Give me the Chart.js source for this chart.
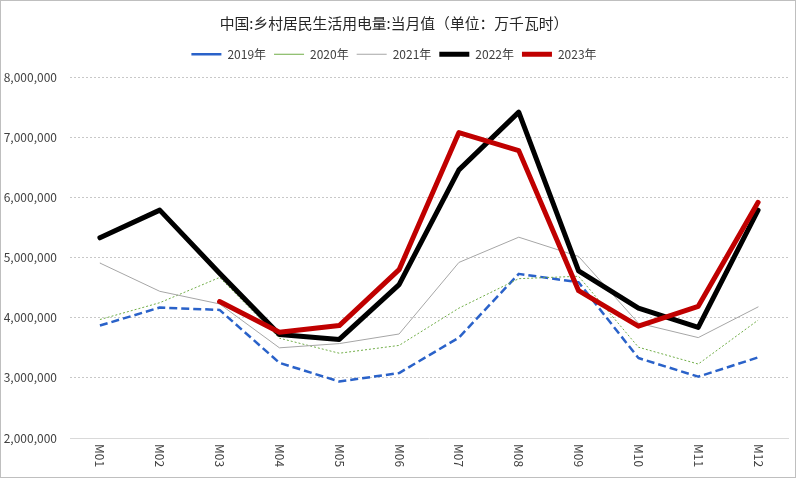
<!DOCTYPE html>
<html>
<head>
<meta charset="utf-8">
<script src="https://cdn.jsdelivr.net/npm/chart.js@4"></script>
<style>
  html, body { margin: 0; padding: 0; background: #fff; }
  #wrap { position: relative; width: 800px; height: 478px; }
  #wrap canvas { position: absolute; left: 0; top: 0; }
  #frame { position: absolute; left: 0; top: 0; width: 796px; height: 478px;
           box-sizing: border-box; border: 1px solid #bfbfbf; pointer-events: none; }
</style>
</head>
<body>
<div id="wrap">
  <canvas id="chart" width="800" height="478"></canvas>
  <div id="frame"></div>
</div>
<script>
// Data (万千瓦时)
const months = ['M01', 'M02', 'M03', 'M04', 'M05', 'M06', 'M07', 'M08', 'M09', 'M10', 'M11', 'M12'];
const seriesNames = ['2019年', '2020年', '2021年', '2022年', '2023年'];
const y2019 = [3870000, 4170000, 4130000, 3250000, 2940000, 3080000, 3670000, 4730000, 4590000, 3330000, 3020000, 3340000];
const y2020 = [3970000, 4250000, 4670000, 3660000, 3410000, 3540000, 4160000, 4650000, 4690000, 3510000, 3230000, 3960000];
const y2021 = [4910000, 4440000, 4230000, 3500000, 3570000, 3730000, 4920000, 5340000, 5020000, 3910000, 3670000, 4180000];
const y2022 = [5330000, 5790000, 4740000, 3720000, 3640000, 4550000, 6460000, 7420000, 4780000, 4160000, 3840000, 5790000];
const y2023 = [null, null, 4270000, 3760000, 3870000, 4800000, 7080000, 6780000, 4450000, 3860000, 4190000, 5920000];
const yTicks = [2000000, 3000000, 4000000, 5000000, 6000000, 7000000, 8000000];

const FONT = "'Noto Sans CJK SC', 'Noto Sans', sans-serif";

// rotated month labels (read top-to-bottom, like the original)
const monthLabels = {
  id: 'monthLabels',
  afterDraw(chart) {
    const ctx = chart.ctx;
    const xs = chart.scales.x;
    const top = chart.chartArea.bottom + 6;
    ctx.save();
    ctx.font = '12px ' + FONT;
    ctx.fillStyle = '#404040';
    ctx.textAlign = 'left';
    ctx.textBaseline = 'middle';
    months.forEach((m, i) => {
      ctx.save();
      ctx.translate(xs.getPixelForValue(i), top);
      ctx.rotate(Math.PI / 2);
      ctx.fillText(m, 0, 0);
      ctx.restore();
    });
    ctx.restore();
  }
};

function line(label, data, color, width, dash, order) {
  return {
    label: label,
    data: data,
    borderColor: color,
    backgroundColor: color,
    borderWidth: width,
    borderDash: dash,
    borderJoinStyle: 'round',
    borderCapStyle: dash.length ? 'butt' : 'round',
    pointRadius: 0,
    pointHoverRadius: 0,
    tension: 0,
    spanGaps: false,
    order: order
  };
}

new Chart(document.getElementById('chart'), {
  type: 'line',
  data: {
    labels: months,
    datasets: [
      line(seriesNames[0], y2019, '#2a62c9', 2.5, [8, 4], 5),
      line(seriesNames[1], y2020, '#70ad47', 1, [2, 2], 4),
      line(seriesNames[2], y2021, '#a6a6a6', 1, [], 3),
      line(seriesNames[3], y2022, '#000000', 5, [], 2),
      line(seriesNames[4], y2023, '#c00000', 5, [], 1)
    ]
  },
  options: {
    responsive: false,
    animation: false,
    layout: { padding: { left: 0, right: 12, top: 0, bottom: 40 } },
    plugins: {
      title: {
        display: true,
        text: '中国:乡村居民生活用电量:当月值（单位：万千瓦时）',
        color: '#262626',
        font: { family: FONT, size: 14.8, weight: 'normal', lineHeight: 1.2 },
        padding: { top: 14, bottom: 8.5 }
      },
      legend: {
        display: true,
        position: 'top',
        labels: {
          usePointStyle: true,
          pointStyle: 'line',
          pointStyleWidth: 30,
          color: '#404040',
          font: { family: FONT, size: 12 },
          padding: 8,
          sort: (a, b) => a.datasetIndex - b.datasetIndex
        }
      },
      // empty spacer between legend and plot
      subtitle: {
        display: true,
        text: '',
        weight: 500,
        padding: 0,
        font: { size: 7, lineHeight: 1 }
      },
      tooltip: { enabled: false }
    },
    scales: {
      x: {
        offset: true,
        grid: { display: false, drawTicks: false },
        border: { display: true, color: '#d9d9d9', width: 1 },
        ticks: { display: false }
      },
      y: {
        min: yTicks[0],
        max: yTicks[yTicks.length - 1],
        afterFit: (scale) => { scale.width = 70; },
        afterBuildTicks: (scale) => { scale.ticks = yTicks.map(v => ({ value: v })); },
        grid: { color: '#c8c8c8', drawTicks: false, lineWidth: 1 },
        border: { display: false, dash: [2, 2] },
        ticks: {
          padding: 13,
          color: '#404040',
          font: { family: FONT, size: 12 },
          callback: (v) => v.toLocaleString('en-US')
        }
      }
    }
  },
  plugins: [monthLabels]
});
</script>
</body>
</html>
